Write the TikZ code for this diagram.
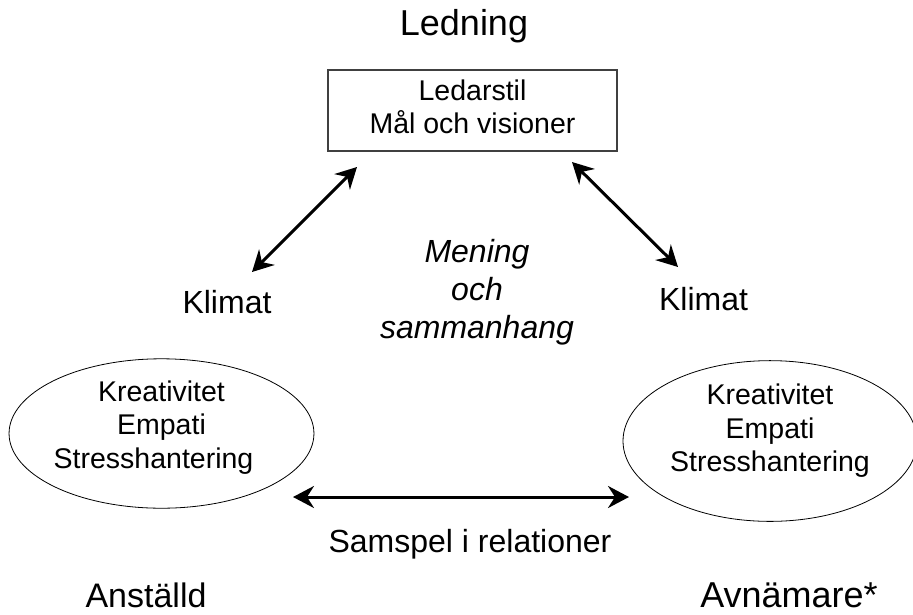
\documentclass[tikz,border=0pt]{standalone}
\usepackage{fontspec}
\setmainfont{Liberation Sans}
\usetikzlibrary{arrows.meta,shapes.geometric}
\begin{document}
\begin{tikzpicture}[x=1pt,y=-1pt,
  corner/.style={anchor=base,font=\fontsize{36}{40}\selectfont},
  mid/.style={anchor=base,font=\fontsize{32}{36}\selectfont},
  inbox/.style={align=center,font=\fontsize{28.5}{33.5}\selectfont,inner sep=0pt},
  bigarrow/.style={line width=3pt,{Stealth[length=21pt,width=22pt,inset=7pt]}-{Stealth[length=21pt,width=22pt,inset=7pt]}},
  ovalbox/.style={ellipse,draw=black,line width=0.8pt,inner sep=0pt}
]
\useasboundingbox (0,0) rectangle (913,614);
\node[corner] (ledning) at (464,35) {Ledning};
\node[draw=black!75,line width=1.2pt,minimum width=289pt,minimum height=81pt,inbox] (box) at (472.5,110.5)
  {Ledarstil\\Mål och visioner\rule[-8pt]{0pt}{0pt}};
\node[ovalbox,minimum width=303pt,minimum height=140pt,inbox] (eL) at (161.5,433.5)
  {Kreativitet\\Empati\\Stresshantering\hspace*{16pt}\rule[-18pt]{0pt}{0pt}};
\node[ovalbox,minimum width=294pt,minimum height=142pt,inbox] (eR) at (770,441)
  {Kreativitet\\Empati\\Stresshantering\rule[-26pt]{0pt}{0pt}};
\node[mid] (klimL) at (227,313) {Klimat};
\node[mid] (klimR) at (703.5,310) {Klimat};
\node[align=center,inner sep=0pt,font=\fontsize{32}{38}\selectfont\itshape] (mening) at (477,292)
  {Mening\\och\\sammanhang};
\node[mid] (samspel) at (470,552) {Samspel i relationer};
\node[anchor=base,font=\fontsize{34}{38}\selectfont] (anst) at (146,607) {Anställd};
\node[corner] (avn) at (789,607) {Avnämare*};
\coordinate (aLt) at (357,167);
\coordinate (aLb) at (252,272);
\coordinate (aRt) at (572,162);
\coordinate (aRb) at (678,267);
\coordinate (hL) at (293,497);
\coordinate (hR) at (629,497);
\draw[bigarrow] (aLb) -- (aLt);
\draw[bigarrow] (aRt) -- (aRb);
\draw[bigarrow] (hL) -- (hR);
\end{tikzpicture}
\end{document}
